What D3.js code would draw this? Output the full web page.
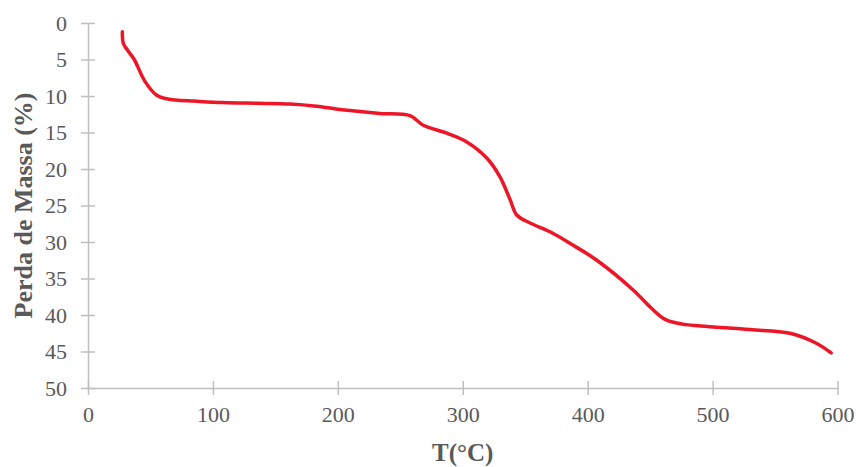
<!DOCTYPE html>
<html>
<head>
<meta charset="utf-8">
<script src="https://cdn.jsdelivr.net/npm/d3@7"></script>
<style>
  html, body { margin: 0; padding: 0; background: #fff; }
  svg { display: block; }
  text { font-family: "Liberation Serif", "Times New Roman", serif; fill: #595959; }
</style>
</head>
<body>
<svg id="chart" width="856" height="467"></svg>
<script>
// TGA curve: temperature (°C) vs. mass loss (%)
const temperature = [27.5, 28.3, 32, 37, 45.6, 55, 62, 70, 85, 108, 135, 161.7, 183, 200, 209.7,
  233.8, 257.8, 268.4, 287.2, 303.2, 319.2, 329.9, 337.9, 343.2, 353.9, 369.9, 386, 407.3,
  436.6, 450, 462, 476, 490.5, 530, 562, 583.4, 594.9];
const massLoss = [1.2, 2.8, 3.8, 5.0, 8.0, 9.9, 10.35, 10.55, 10.7, 10.9, 11.0, 11.1, 11.4, 11.8, 12.0,
  12.4, 12.7, 14.0, 15.1, 16.3, 18.5, 21.1, 24.2, 26.3, 27.4, 28.6, 30.2, 32.5,
  36.6, 38.9, 40.6, 41.25, 41.5, 42.0, 42.5, 43.9, 45.2];
const xTicks = [0, 100, 200, 300, 400, 500, 600];
const yTicks = [0, 5, 10, 15, 20, 25, 30, 35, 40, 45, 50];
const xTitle = "T(°C)";
const yTitle = "Perda de Massa (%)";

const svg = d3.select("#chart");
const margin = { left: 88, right: 18.5, top: 23, bottom: 79 };
const W = 856, H = 467;

const x = d3.scaleLinear().domain([0, 600]).range([margin.left, W - margin.right]);
const y = d3.scaleLinear().domain([0, 50]).range([margin.top, H - margin.bottom]);

const axisColor = "#bfbfbf";

// x axis
const gx = svg.append("g")
  .attr("transform", `translate(0,${y(50)})`)
  .call(d3.axisBottom(x).tickValues(xTicks).tickSizeInner(7).tickSizeOuter(0).tickPadding(11));
gx.selectAll(".tick line").attr("y1", -7).attr("y2", 7);

// y axis
const gy = svg.append("g")
  .attr("transform", `translate(${x(0)},0)`)
  .call(d3.axisLeft(y).tickValues(yTicks).tickSizeInner(7).tickSizeOuter(0).tickPadding(14));
gy.selectAll(".tick line").attr("x1", -7).attr("x2", 7);

[gx, gy].forEach(g => {
  g.select(".domain").attr("stroke", axisColor).attr("stroke-width", 1.5);
  g.selectAll(".tick line").attr("stroke", axisColor).attr("stroke-width", 1.5);
  g.selectAll(".tick text")
    .attr("font-family", "'Liberation Serif', 'Times New Roman', serif")
    .attr("font-size", 22)
    .attr("fill", "#595959");
});

// data line
const pts = temperature.map((t, i) => [t, massLoss[i]]);
svg.append("path")
  .datum(pts)
  .attr("fill", "none")
  .attr("stroke", "#ee1527")
  .attr("stroke-width", 3.5)
  .attr("stroke-linecap", "round")
  .attr("stroke-linejoin", "round")
  .attr("d", d3.line().x(d => x(d[0])).y(d => y(d[1])).curve(d3.curveCatmullRom.alpha(0.5)));

// axis titles
svg.append("text")
  .attr("x", (x(0) + x(600)) / 2)
  .attr("y", 461)
  .attr("text-anchor", "middle")
  .attr("font-size", 25)
  .attr("font-weight", "bold")
  .text(xTitle);

svg.append("text")
  .attr("transform", `translate(32,${(y(0) + y(50)) / 2}) rotate(-90)`)
  .attr("text-anchor", "middle")
  .attr("font-size", 26)
  .attr("font-weight", "bold")
  .text(yTitle);
</script>
</body>
</html>
